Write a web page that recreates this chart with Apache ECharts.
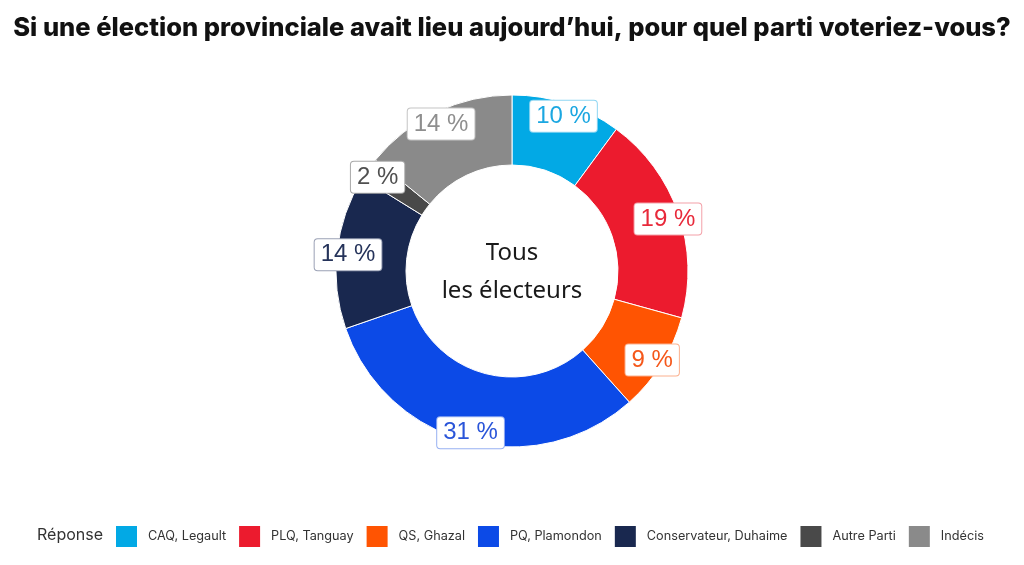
<!DOCTYPE html>
<html>
<head>
<meta charset="utf-8">
<script src="https://cdn.jsdelivr.net/npm/echarts@6/dist/echarts.min.js"></script>
<style>
  html, body { margin: 0; padding: 0; background: #fff; }
  #chart { width: 1024px; height: 565px; }
</style>
</head>
<body>
<div id="chart"></div>
<script>
// Data
const parties = ['CAQ, Legault', 'PLQ, Tanguay', 'QS, Ghazal', 'PQ, Plamondon', 'Conservateur, Duhaime', 'Autre Parti', 'Indécis'];
const shares = [10, 19, 9, 31, 14, 2, 14];
const colors = ['#02a9e5', '#ec1b2e', '#ff5402', '#0c4ae7', '#19284f', '#494949', '#8a8a8a'];
const labelColors = ['#1ba7e1', '#e8293a', '#f5571a', '#2a55d9', '#25335a', '#4f4f4f', '#8e8e8e'];
const borderColors = ['#8fd6f2', '#f3a0a8', '#fbb08e', '#97b0f2', '#9aa1b5', '#a8a8a8', '#c4c4c4'];

const chart = echarts.init(document.getElementById('chart'));

const ringData = parties.map((name, i) => ({
  name,
  value: shares[i],
  itemStyle: { color: colors[i] }
}));

const labelData = parties.map((name, i) => ({
  name,
  value: shares[i],
  label: {
    color: labelColors[i],
    borderColor: borderColors[i]
  }
}));

chart.setOption({
  animation: false,
  color: colors,
  title: [
    {
      text: 'Si une élection provinciale avait lieu aujourd’hui, pour quel parti voteriez-vous?',
      left: 'center',
      top: 15,
      padding: 0,
      textStyle: {
        fontFamily: 'Inter',
        fontWeight: 800,
        fontSize: 25.5,
        color: '#111'
      }
    },
    {
      text: 'Réponse',
      left: 37,
      top: 527,
      padding: 0,
      textStyle: {
        fontFamily: 'Inter',
        fontWeight: 'normal',
        fontSize: 16,
        color: '#333'
      }
    }
  ],
  legend: {
    left: 114,
    top: 524,
    padding: 0,
    itemWidth: 23,
    itemHeight: 23,
    itemGap: 11,
    icon: 'rect',
    data: parties,
    textStyle: {
      fontFamily: 'Inter',
      fontSize: 12.7,
      color: '#333',
      padding: [0, 0, 0, 5]
    }
  },
  graphic: [
    {
      type: 'text',
      x: 512,
      y: 234,
      style: {
        text: 'Tous\nles électeurs',
        fontFamily: 'Noto Sans',
        fontSize: 24,
        lineHeight: 38,
        align: 'center',
        fill: '#1a1a1a'
      }
    }
  ],
  series: [
    {
      type: 'pie',
      center: [512, 271],
      radius: [106, 176],
      startAngle: 90,
      clockwise: true,
      silent: true,
      itemStyle: { borderColor: '#fff', borderWidth: 1 },
      label: { show: false },
      labelLine: { show: false },
      data: ringData
    },
    {
      type: 'pie',
      center: [512, 273],
      radius: [148, 176],
      startAngle: 90,
      clockwise: true,
      silent: true,
      itemStyle: { color: 'transparent' },
      label: {
        show: true,
        position: 'inside',
        formatter: '{c} %',
        fontFamily: 'Liberation Sans',
        fontSize: 24,
        backgroundColor: '#fff',
        borderWidth: 1,
        borderRadius: 3,
        padding: [4, 6, 3, 6]
      },
      labelLine: { show: false },
      data: labelData
    }
  ]
});
</script>
</body>
</html>
